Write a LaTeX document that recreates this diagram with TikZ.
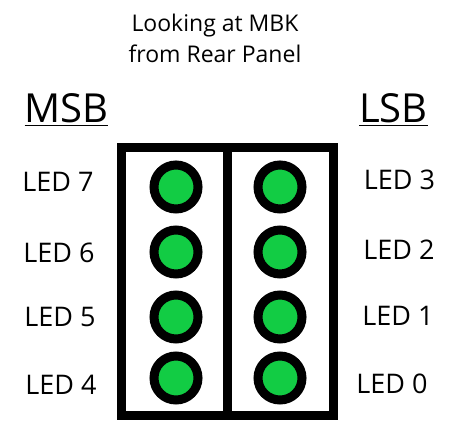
\documentclass[tikz,border=0pt]{standalone}
\usepackage{fontspec}
\setmainfont{Open Sans}
\definecolor{ledgreen}{RGB}{18,204,68}
\begin{document}
\begin{tikzpicture}[x=1pt, y=-1pt,
      panel/.style={rectangle, draw=black, line width=9pt, minimum width=106pt,
        minimum height=268pt, anchor=south west, inner sep=0pt, outer sep=0pt},
      led/.style={circle, draw=black, line width=9pt, fill=ledgreen,
        minimum size=44pt, inner sep=0pt},
      label/.style={anchor=base, inner sep=0pt, font=\fontsize{27}{32}\selectfont},
      side/.style={anchor=base, inner sep=0pt, font=\fontsize{40}{46}\selectfont}]
      \useasboundingbox (0,0) rectangle (463,435);
      % \draw [help lines] grid(3,2);
      \node[anchor=base, align=center, font=\fontsize{23}{31}\selectfont] (title) at (215,63)
        {Looking at MBK\\from Rear Panel};
      \node[side] (msb) at (66.5,123) {\underline{MSB}};
      \node[side] (lsb) at (393.5,123) {\underline{LSB}};
      \node[panel] (msbcol) at (121.5,415.5) {};
      \node[panel] (lsbcol) at (227.5,415.5) {};
      \node[led] (led7) at (176,187) {};
      \node[led] (led6) at (176,252) {};
      \node[led] (led5) at (176,317) {};
      \node[led] (led4) at (176,378) {};
      \node[led] (led3) at (280,187) {};
      \node[led] (led2) at (280,252) {};
      \node[led] (led1) at (280,317) {};
      \node[led] (led0) at (280,378) {};
      \node[label] (lab7) at (58,192) {LED 7};
      \node[label] (lab6) at (59,263) {LED 6};
      \node[label] (lab5) at (60,327) {LED 5};
      \node[label] (lab4) at (61,394) {LED 4};
      \node[label] (lab3) at (399.5,190) {LED 3};
      \node[label] (lab2) at (399,260) {LED 2};
      \node[label] (lab1) at (398,326) {LED 1};
      \node[label] (lab0) at (392,393) {LED 0};
    \end{tikzpicture}
\end{document}
